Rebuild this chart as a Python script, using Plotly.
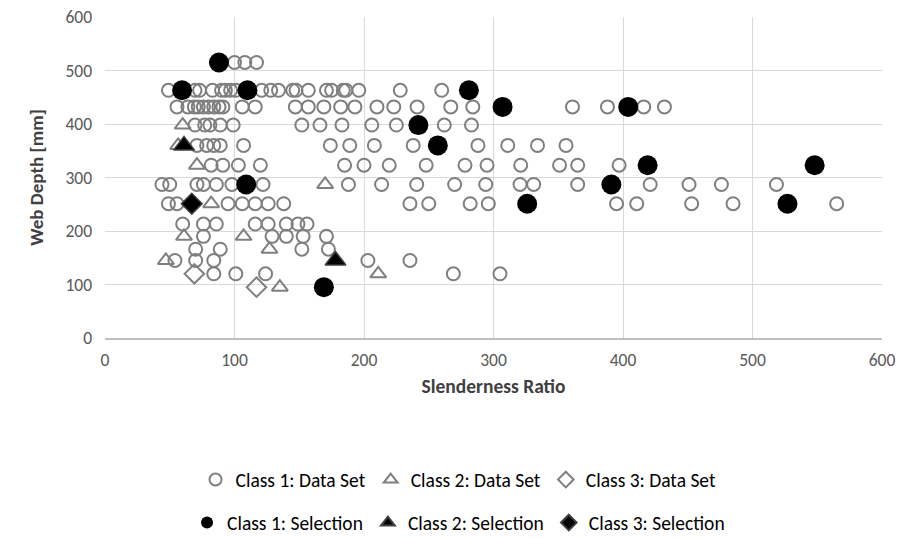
import plotly.graph_objects as go

# Class 1 data set (open circles): slenderness ratio, web depth
c1_x = [100, 108, 117,
        49, 69.5, 73, 83, 90, 93, 97, 101, 121, 128, 134, 145, 147.5, 157, 171, 175, 184, 186, 196, 228, 260,
        55.6, 64, 69, 72, 76, 80, 84, 88, 91, 106, 116, 147, 157, 169, 182, 193, 210, 223, 241, 267, 284, 361, 388, 416, 432,
        69.5, 77, 81, 89, 99, 152, 166, 183, 206, 225, 262, 283,
        71, 78.5, 84, 89, 107, 174, 189, 208, 238, 288, 311, 334, 356,
        82, 91, 103, 120, 185, 200, 219.5, 248, 278, 295, 321, 351, 365, 397,
        44, 50, 71, 76, 86, 98, 122, 188, 213.6, 240.7, 270, 294, 320.5, 331, 365, 421, 451, 476, 518.5,
        49, 55.6, 95, 106, 116, 126, 138, 235.5, 250, 282, 296, 395, 410.6, 453, 485, 565,
        60, 76, 86, 116, 126, 140, 149, 156,
        76, 129, 140, 153, 171,
        70, 89, 152, 172.5,
        54, 70, 84, 203, 235.5,
        84, 101, 124, 269, 305]
c1_y = [515] * 3 + [463] * 21 + [432] * 25 + [398] * 12 + [360] * 13 + [323] * 14 + \
       [287] * 19 + [251] * 16 + [213] * 8 + [190] * 5 + [166] * 4 + [145] * 5 + [120] * 5

# Class 2 data set (open triangles)
c2_x = [60, 56.5, 71, 170, 82, 61, 107, 127, 47, 211, 135]
c2_y = [398, 360, 323, 287, 251, 190, 190, 166, 145, 120, 95]

# Class 3 data set (open diamonds)
c3_x = [69, 117]
c3_y = [120, 95]

# Selected specimens
s1_x = [88, 59.5, 110, 281, 307, 404, 242, 257, 419, 548, 109, 391, 326, 527, 169]
s1_y = [515, 463, 463, 463, 432, 432, 398, 360, 323, 323, 287, 287, 251, 251, 95]
s2_x = [61, 178]
s2_y = [360, 145]
s3_x = [67]
s3_y = [251]

GREY = "#7f7f7f"
FONT = "Carlito, Calibri, Lato, sans-serif"

fig = go.Figure()

fig.add_trace(go.Scatter(x=c1_x, y=c1_y, mode="markers", name="Class 1: Data Set",
                         marker=dict(symbol="circle-open", size=13, color=GREY, line=dict(width=2, color=GREY)),
                         legend="legend"))
fig.add_trace(go.Scatter(x=c2_x, y=c2_y, mode="markers", name="Class 2: Data Set",
                         marker=dict(symbol="triangle-up-open", size=14, color=GREY, line=dict(width=2, color=GREY)),
                         legend="legend"))
fig.add_trace(go.Scatter(x=c3_x, y=c3_y, mode="markers", name="Class 3: Data Set",
                         marker=dict(symbol="diamond-open", size=15, color=GREY, line=dict(width=2, color=GREY)),
                         legend="legend"))
fig.add_trace(go.Scatter(x=s1_x, y=s1_y, mode="markers", name="Class 1: Selection",
                         marker=dict(symbol="circle", size=20, color="black", line=dict(width=0)),
                         legend="legend2"))
fig.add_trace(go.Scatter(x=s2_x, y=s2_y, mode="markers", name="Class 2: Selection",
                         marker=dict(symbol="triangle-up", size=18, color="black", line=dict(width=1.5, color="#404040")),
                         legend="legend2"))
fig.add_trace(go.Scatter(x=s3_x, y=s3_y, mode="markers", name="Class 3: Selection",
                         marker=dict(symbol="diamond", size=16, color="black", line=dict(width=1.5, color="#404040")),
                         legend="legend2"))

legend_common = dict(orientation="h", xanchor="center", x=0.455, yanchor="middle",
                     font=dict(family=FONT, size=19.5, color="#000000"),
                     itemsizing="constant", itemwidth=30, bgcolor="rgba(0,0,0,0)", tracegroupgap=0)

fig.update_layout(
    width=902, height=538,
    margin=dict(l=105, r=20, t=17, b=200, autoexpand=False),
    paper_bgcolor="white", plot_bgcolor="white",
    font=dict(family=FONT, color="#595959"),
    legend=dict(y=-0.442, **legend_common),
    legend2=dict(y=-0.576, **legend_common),
    xaxis=dict(range=[0, 600], dtick=100, showgrid=True, gridcolor="#d9d9d9", gridwidth=1,
               zeroline=False, showline=True, linecolor="#bfbfbf", linewidth=1.5,
               ticks="", ticklabelstandoff=5, tickfont=dict(size=17.5, color="#595959"),
               title=dict(text="<b>Slenderness Ratio</b>", font=dict(size=19.5, color="#404040"), standoff=10)),
    yaxis=dict(range=[0, 600], dtick=100, showgrid=True, gridcolor="#d9d9d9", gridwidth=1,
               zeroline=False, showline=False, ticks="", ticklabelstandoff=12,
               tickfont=dict(size=17.5, color="#595959"),
               title=dict(text="<b>Web Depth [mm]</b>", font=dict(size=19, color="#404040"), standoff=16)),
)

fig.write_html("out.html")
